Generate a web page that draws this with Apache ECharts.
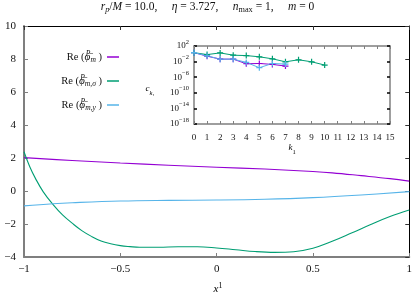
<!DOCTYPE html>
<html><head><meta charset="utf-8">
<script src="https://cdn.jsdelivr.net/npm/echarts@6/dist/echarts.min.js"></script>
<style>html,body{margin:0;padding:0;background:#fff}#c{width:415px;height:295px}</style>
</head><body><div id="c"></div>
<script>
// ---- main panel data ----
const purpleX = [-1, -0.75, -0.5, -0.25, 0, 0.25, 0.5, 0.6, 0.75, 0.9, 1];
const purpleY = [2.02, 1.85, 1.70, 1.56, 1.44, 1.33, 1.18, 1.10, 0.93, 0.75, 0.60];
const greenX = [-1, -0.97, -0.94, -0.9, -0.85, -0.8, -0.75, -0.7, -0.65, -0.6, -0.55, -0.5, -0.45, -0.4, -0.3, -0.2, -0.1, 0, 0.1, 0.2, 0.3, 0.4, 0.5, 0.6, 0.7, 0.8, 0.9, 1];
const greenY = [2.38, 1.47, 0.75, -0.05, -0.81, -1.45, -1.95, -2.40, -2.75, -3.03, -3.20, -3.31, -3.37, -3.41, -3.41, -3.38, -3.38, -3.45, -3.56, -3.67, -3.72, -3.68, -3.47, -3.05, -2.55, -2.03, -1.55, -1.15];
const blueX = [-1, -0.85, -0.75, -0.5, -0.25, 0, 0.25, 0.5, 0.75, 1];
const blueY = [-0.90, -0.77, -0.71, -0.61, -0.57, -0.55, -0.50, -0.40, -0.24, -0.04];
// ---- inset data: coefficients c_k1 vs k1 ----
const insetPurpleK = [0, 1, 2, 3, 4, 5, 6, 7];
const insetPurpleC = [2.0, 0.25, 0.043, 0.043, 0.0028, 0.0033, 0.0019, 0.00072];
const insetGreenK = [0, 1, 2, 3, 4, 5, 6, 7, 8, 9, 10];
const insetGreenC = [2.0, 0.63, 1.7, 0.44, 0.35, 0.17, 0.051, 0.0089, 0.029, 0.0089, 0.0013];
const insetBlueK = [0, 1, 2, 3, 4, 5, 6, 7];
const insetBlueC = [2.0, 0.30, 0.043, 0.043, 0.0063, 0.00027, 0.0033, 0.0023];
// ---- labels ----
const legendNames = ['phi_m', 'phi_m_sigma', 'phi_m_y'];
const legendLabels = {
  phi_m: '{n|Re (}{i|φ̄}{sup0|P}{sub|m}{n| )}',
  phi_m_sigma: '{n|Re (}{i|φ̄}{sup0|P}{sub|m,σ}{n| )}',
  phi_m_y: '{n|Re (}{i|φ̄}{sup0|P}{sub|m,y}{n| )}'
};
const titleText = '{i|r}{sub|p}{n|/}{i|M}{n| = 10.0,     }{i|η}{n| = 3.727,     }{i|n}{subn|max}{n| = 1,     }{i|m}{n| = 0}';

const FONT = 'Liberation Serif';
const COLORS = ['#9400d3', '#009e73', '#56b4e9'];
const zip = (a, b) => a.map((v, i) => [v, b[i]]);
const minus = s => String(s).replace('-', '−');
const plus = 'path://M4,0h2v4h4v2h-4v4h-2v-4h-4v-2h4z';
const richBase = (size) => {
  const base = {fontFamily: FONT, fontWeight: 'normal', color: '#111'};
  return {
    n: Object.assign({}, base, {fontSize: size, lineHeight: 14}),
    i: Object.assign({}, base, {fontStyle: 'italic', fontSize: size, lineHeight: 14}),
    sup: Object.assign({}, base, {fontStyle: 'italic', fontSize: size * 0.72, lineHeight: 7, verticalAlign: 'top'}),
    sup0: Object.assign({}, base, {fontStyle: 'italic', fontSize: size * 0.72, lineHeight: 7, verticalAlign: 'top', width: 0.01}),
    sub: Object.assign({}, base, {fontStyle: 'italic', fontSize: size * 0.72, lineHeight: 7, verticalAlign: 'bottom'}),
    subn: Object.assign({}, base, {fontSize: size * 0.72, lineHeight: 7, verticalAlign: 'bottom'}),
    b: Object.assign({}, base, {fontSize: size, lineHeight: 14}),
    s: Object.assign({}, base, {fontSize: size * 0.72, lineHeight: 7, verticalAlign: 'top'})
  };
};

const chart = echarts.init(document.getElementById('c'), null, {renderer: 'canvas'});
const mainLine = (name, x, y, c) => ({
  name, type: 'line', xAxisIndex: 0, yAxisIndex: 0, data: zip(x, y), smooth: 0.4,
  showSymbol: false, symbol: 'none', lineStyle: {color: c, width: 1.1}, itemStyle: {color: c}, z: 3
});
const insetLine = (name, x, y, c) => ({
  name, type: 'line', xAxisIndex: 2, yAxisIndex: 2, data: zip(x, y),
  symbol: plus, symbolSize: 6, lineStyle: {color: c, width: 1}, itemStyle: {color: c}, z: 4
});
const gray = '#7f7f7f';
chart.setOption({
  animation: false,
  backgroundColor: '#fff',
  title: {
    text: titleText, left: 'center', top: 0, padding: [0, 0, 0, 22],
    textStyle: {fontWeight: 'normal', rich: richBase(11.5)}
  },
  legend: {
    data: legendNames.map(n => ({name: n, icon: 'rect'})),
    orient: 'vertical', align: 'right', right: 291, top: 45,
    itemWidth: 12, itemHeight: 1.5, itemGap: 10,
    formatter: n => legendLabels[n],
    textStyle: {rich: richBase(10.5)}
  },
  grid: [
    {left: 24, right: 3, top: 26, bottom: 38},
    {left: 194, right: 25, top: 46, bottom: 171}
  ],
  xAxis: [
    {gridIndex: 0, type: 'value', min: -1, max: 1, interval: 0.5, position: 'bottom',
     axisLine: {onZero: false, lineStyle: {color: gray, width: 2}},
     axisTick: {inside: true, length: 4, lineStyle: {color: gray}},
     axisLabel: {margin: 7, fontFamily: FONT, fontSize: 11, color: '#111', formatter: v => minus(v)},
     splitLine: {show: false}},
    {gridIndex: 0, type: 'value', min: -1, max: 1, interval: 0.5, position: 'top',
     axisLine: {onZero: false, lineStyle: {color: '#000', width: 1}},
     axisTick: {inside: true, length: 4, lineStyle: {color: '#333'}},
     axisLabel: {show: false}, splitLine: {show: false}},
    {gridIndex: 1, type: 'value', min: 0, max: 15, interval: 1, position: 'bottom',
     axisLine: {onZero: false, lineStyle: {color: gray, width: 1.5}},
     axisTick: {inside: true, length: 3, lineStyle: {color: gray}},
     axisLabel: {margin: 9, fontFamily: FONT, fontSize: 9, color: '#111'},
     splitLine: {show: false}},
    {gridIndex: 1, type: 'value', min: 0, max: 15, interval: 1, position: 'top',
     axisLine: {onZero: false, lineStyle: {color: gray, width: 1.5}},
     axisTick: {inside: true, length: 3, lineStyle: {color: gray}},
     axisLabel: {show: false}, splitLine: {show: false}}
  ],
  yAxis: [
    {gridIndex: 0, type: 'value', min: -4, max: 10, interval: 2, position: 'left',
     axisLine: {onZero: false, lineStyle: {color: gray, width: 2}},
     axisTick: {inside: true, length: 4, lineStyle: {color: gray}},
     axisLabel: {margin: 8, fontFamily: FONT, fontSize: 11, color: '#111', formatter: v => minus(v)},
     splitLine: {show: false}},
    {gridIndex: 0, type: 'value', min: -4, max: 10, interval: 2, position: 'right',
     axisLine: {onZero: false, lineStyle: {color: '#000', width: 1}},
     axisTick: {inside: true, length: 4, lineStyle: {color: '#333'}},
     axisLabel: {show: false}, splitLine: {show: false}},
    {gridIndex: 1, type: 'log', logBase: 10, min: 1e-18, max: 1e2, interval: 4, position: 'left',
     axisLine: {onZero: false, lineStyle: {color: gray, width: 1.5}},
     axisTick: {inside: true, length: 3, lineStyle: {color: '#000', width: 1.5}},
     axisLabel: {margin: 5, formatter: v => '{b|10}{s|' + minus(Math.round(Math.log10(v))) + '}', rich: richBase(9)},
     splitLine: {show: false}},
    {gridIndex: 1, type: 'log', logBase: 10, min: 1e-18, max: 1e2, interval: 4, position: 'right',
     axisLine: {onZero: false, lineStyle: {color: gray, width: 1.5}},
     axisTick: {inside: true, length: 3, lineStyle: {color: '#000', width: 1.5}},
     axisLabel: {show: false}, splitLine: {show: false}}
  ],
  graphic: [
    {type: 'text', x: 218, y: 289, style: {text: '{i|x}{s|1}', rich: richBase(11), align: 'center', verticalAlign: 'middle'}},
    {type: 'text', x: 292, y: 148, style: {text: '{i|k}{subn|1}', rich: richBase(9), align: 'center', verticalAlign: 'middle'}},
    {type: 'text', x: 150, y: 89, style: {text: '{i|c}{sub|k₁}', rich: richBase(9), align: 'center', verticalAlign: 'middle'}}
  ],
  series: [
    mainLine('phi_m', purpleX, purpleY, COLORS[0]),
    mainLine('phi_m_sigma', greenX, greenY, COLORS[1]),
    mainLine('phi_m_y', blueX, blueY, COLORS[2]),
    insetLine('inset_m', insetPurpleK, insetPurpleC, COLORS[0]),
    insetLine('inset_sigma', insetGreenK, insetGreenC, COLORS[1]),
    insetLine('inset_y', insetBlueK, insetBlueC, COLORS[2])
  ]
});
</script></body></html>
